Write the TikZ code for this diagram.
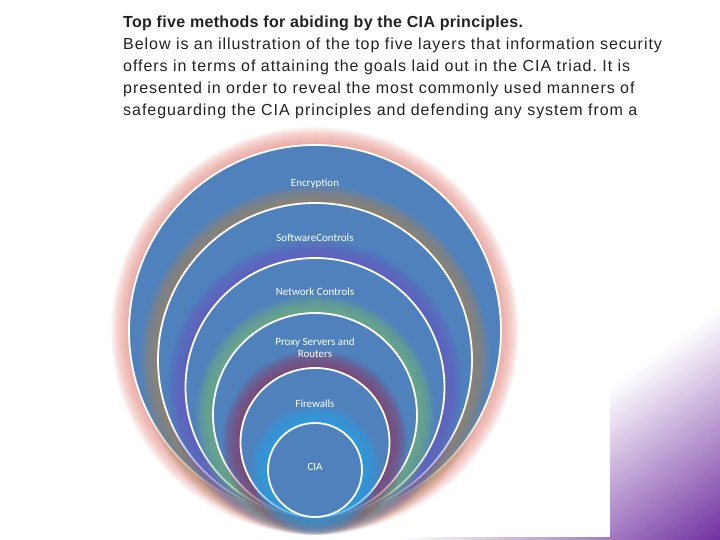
\documentclass[tikz,border=0pt]{standalone}
\usepackage{fontspec}
\setmainfont{Liberation Sans}
\newfontfamily\bodyfont[LetterSpace=6]{Liberation Sans}
\newfontfamily\titlefont[LetterSpace=2]{Liberation Sans Bold}
\newfontfamily\lblfont{Carlito}
\definecolor{ringblue}{HTML}{4F81BD}
\definecolor{txt}{HTML}{222222}
\definecolor{purpleC}{HTML}{7030A0}
\definecolor{glowA}{HTML}{EC9A92}
\definecolor{glowB}{HTML}{A58A62}
\definecolor{glowC}{HTML}{6A5CC8}
\definecolor{glowD}{HTML}{78B87C}
\definecolor{glowE}{HTML}{8E3F6A}
\definecolor{glowF}{HTML}{2AA6EA}
\tikzset{
  ringlabel/.style={text=white, font=\lblfont\fontsize{11}{11.5}\selectfont, align=center, inner sep=0pt},
  ringline/.style={draw=white, line width=1.8pt},
}
\frenchspacing
\begin{document}
\begin{tikzpicture}[x=1pt,y=1pt]
\useasboundingbox (0,0) rectangle (720,540);
% purple corner gradient, built from strips
\begin{scope}
  \clip (0,0) rectangle (720,540);
  \begin{scope}[shift={(610,152)}, rotate=-54]
    \foreach \i in {0,...,46}{
      \pgfmathsetmacro{\p}{100*(\i+0.5)/47}
      \fill[purpleC!\p!white] (\i*4,-600) rectangle (\i*4+4.3,600);
    }
    \fill[purpleC] (188,-600) rectangle (600,600);
  \end{scope}
\end{scope}
\fill[white] (0,3) rectangle (610,540);
% text
\node[anchor=north west, align=left, text=txt, inner sep=0pt, font=\bodyfont\fontsize{16}{22}\selectfont] (para) at (123,524)
{{\titlefont Top five methods for abiding by the CIA principles.}\\
Below is an illustration of the top five layers that information security\\
offers in terms of attaining the goals laid out in the CIA triad. It is\\
presented in order to reveal the most commonly used manners of\\
safeguarding the CIA principles and defending any system from a};
% nested circles
\foreach \r/\g in {186/glowA,157/glowB,129.5/glowC,102/glowD,74.5/glowE,47/glowF}{
  \foreach \k in {1,...,18}{
    \fill[\g, opacity=0.075] (315,23+\r) circle[radius=\r+\k];
  }
  \fill[ringblue] (315,23+\r) circle[radius=\r];
  \path[ringline] (315,23+\r) circle[radius=\r];
}
\node[ringlabel] (enc) at (315,356) {Encryption};
\node[ringlabel] (soft) at (315,302) {SoftwareControls};
\node[ringlabel] (net) at (315,248) {Network Controls};
\node[ringlabel] (proxy) at (315,192.5) {Proxy Servers and\\Routers};
\node[ringlabel] (fire) at (315,136) {Firewalls};
\node[ringlabel] (cia) at (315,73) {CIA};
\end{tikzpicture}
\end{document}
